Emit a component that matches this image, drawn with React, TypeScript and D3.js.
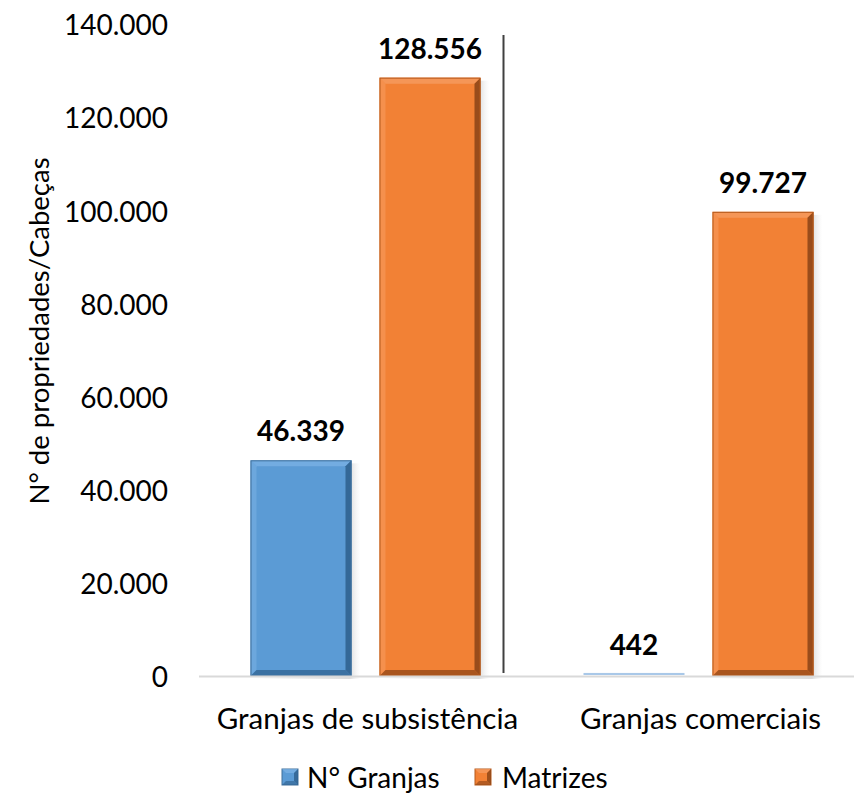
import React from "react";
import * as d3 from "d3";

const categories = ["Granjas de subsistência", "Granjas comerciais"];
const seriesNames = ["N° Granjas", "Matrizes"];
const granjas = [46339, 442];
const matrizes = [128556, 99727];
const yTicks = [0, 20000, 40000, 60000, 80000, 100000, 120000, 140000];
const yTickLabels = ["0", "20.000", "40.000", "60.000", "80.000", "100.000", "120.000", "140.000"];
const valueLabels = [["46.339", "442"], ["128.556", "99.727"]];

const colors = [
  { fill: "#5B9BD5", light: "#7DB3E6", dark: "#2E5F8C", border: "#41719C" },
  { fill: "#F28135", light: "#F7A066", dark: "#8A4316", border: "#B55A1D" },
];

const W = 854, H = 795;
const FONT = "Lato, 'Open Sans', sans-serif";

function Bar({ x, y, w, h, c }: any) {
  if (h <= 0) return null;
  const b = Math.min(6, w / 4, h / 4);
  return (
    <g>
      <rect x={x + 3} y={y + 3} width={w + 6} height={h} fill="url(#shadow)" opacity={0.6} />
      <rect x={x} y={y} width={w} height={h} fill={c.fill} />
      {h > 4 && (
        <>
          <polygon points={`${x},${y} ${x + w},${y} ${x + w - b},${y + b} ${x + b},${y + b}`} fill={c.light} opacity={0.7} />
          <polygon points={`${x},${y} ${x + b},${y + b} ${x + b},${y + h - b} ${x},${y + h}`} fill={c.light} opacity={0.5} />
          <polygon points={`${x + w},${y} ${x + w},${y + h} ${x + w - b},${y + h - b} ${x + w - b},${y + b}`} fill={c.dark} opacity={0.85} />
          <polygon points={`${x},${y + h} ${x + w},${y + h} ${x + w - b},${y + h - b} ${x + b},${y + h - b}`} fill={c.dark} opacity={0.7} />
        </>
      )}
      <rect x={x + 0.5} y={y + 0.5} width={w - 1} height={Math.max(0, h - 1)} fill="none" stroke={c.border} strokeWidth={1} />
    </g>
  );
}

function LegendSwatch({ x, y, c }: any) {
  const s = 16;
  return (
    <g>
      <rect x={x} y={y} width={s} height={s} fill={c.fill} stroke={c.border} />
      <polygon points={`${x},${y} ${x + s},${y} ${x + s - 4},${y + 4} ${x + 4},${y + 4}`} fill={c.light} opacity={0.7} />
      <polygon points={`${x + s},${y} ${x + s},${y + s} ${x + s - 4},${y + s - 4} ${x + s - 4},${y + 4}`} fill={c.dark} opacity={0.8} />
      <polygon points={`${x},${y + s} ${x + s},${y + s} ${x + s - 4},${y + s - 4} ${x + 4},${y + s - 4}`} fill={c.dark} opacity={0.6} />
    </g>
  );
}

export default function App() {
  const y = d3.scaleLinear().domain([0, 140000]).range([676, 24.4]);
  const x0 = d3.scaleBand().domain(categories).range([199, 865]).paddingInner(0).paddingOuter(0);
  const bw = 101;
  const gap = 28;
  const series = [granjas, matrizes];

  return (
    <svg width={W} height={H} style={{ position: "absolute", left: 0, top: 0, background: "#fff" }} fontFamily={FONT}>
      <defs>
        <linearGradient id="shadow" x1="0" x2="1" y1="0" y2="0">
          <stop offset="0" stopColor="#999" stopOpacity={0.0} />
          <stop offset="0.9" stopColor="#888" stopOpacity={0.5} />
          <stop offset="1" stopColor="#ccc" stopOpacity={0} />
        </linearGradient>
      </defs>
      <rect width={W} height={H} fill="#fff" />
      {yTicks.map((t, i) => (
        <text key={t} x={168} y={y(t)} textAnchor="end" dominantBaseline="central" fontSize={28} fill="#000">
          {yTickLabels[i]}
        </text>
      ))}
      <text transform={`translate(38,${331}) rotate(-90)`} textAnchor="middle" dominantBaseline="central" fontSize={27.5} fill="#000">
        N° de propriedades/Cabeças
      </text>
      {categories.map((cat, ci) => {
        const cx = x0(cat)! + x0.bandwidth() / 2;
        return (
          <g key={cat}>
            {series.map((vals, si) => {
              const bx = cx + (si === 0 ? -gap / 2 - bw : gap / 2);
              const top = y(vals[ci]);
              const h = y(0) - top;
              return (
                <g key={si}>
                  {h > 3 ? (
                    <Bar x={bx} y={top} w={bw} h={h} c={colors[si]} />
                  ) : (
                    <rect x={bx} y={top - 1} width={bw} height={Math.max(1.5, h)} fill="#A9C8E8" />
                  )}
                  <text x={bx + bw / 2} y={top - 30} textAnchor="middle" dominantBaseline="central" fontSize={28} fontWeight="bold" fill="#000">
                    {valueLabels[si][ci]}
                  </text>
                </g>
              );
            })}
            <text x={cx + 2} y={717} textAnchor="middle" dominantBaseline="central" fontSize={29.5} fill="#000">
              {cat}
            </text>
          </g>
        );
      })}
      <line x1={199} x2={854} y1={676.5} y2={676.5} stroke="#D9D9D9" strokeWidth={2} />
      <line x1={503.5} x2={503.5} y1={35} y2={673} stroke="#404040" strokeWidth={2} />
      <g>
        <LegendSwatch x={282} y={769} c={colors[0]} />
        <text x={307} y={777} dominantBaseline="central" fontSize={28} fill="#000">{seriesNames[0]}</text>
        <LegendSwatch x={475} y={769} c={colors[1]} />
        <text x={502} y={777} dominantBaseline="central" fontSize={28} fill="#000">{seriesNames[1]}</text>
      </g>
    </svg>
  );
}
